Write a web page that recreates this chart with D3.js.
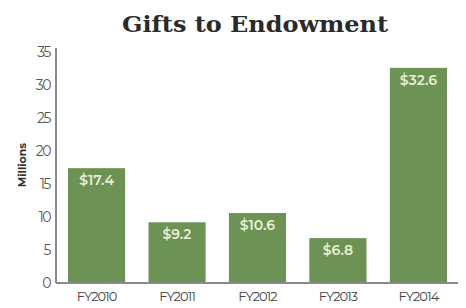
<!DOCTYPE html>
<html>
<head>
<meta charset="utf-8">
<script src="https://cdnjs.cloudflare.com/ajax/libs/d3/7.8.5/d3.min.js"></script>
<style>
  body { margin: 0; background: #fff; }
  text { font-family: "Montserrat", "Noto Sans", "DejaVu Sans", sans-serif; }
</style>
</head>
<body>
<div id="chart"></div>
<script>
// Chart data
var years = ["FY2010", "FY2011", "FY2012", "FY2013", "FY2014"];
var gifts = [17.4, 9.2, 10.6, 6.8, 32.6];
var yTicks = [0, 5, 10, 15, 20, 25, 30, 35];

// SVG size
var svgWdt = 466;
var svgHgt = 308;

var svg = d3.select("#chart").append("svg")
    .attr("width", svgWdt)
    .attr("height", svgHgt);

// Scales
var xScale = d3.scaleBand()
    .domain(years)
    .range([57, 458])
    .paddingInner(0.29)
    .paddingOuter(0.137);

var yScale = d3.scaleLinear()
    .domain([0, 35])
    .range([283, 52]);

var green = "#6c9254";

// Title
svg.append("text")
    .attr("x", 255)
    .attr("y", 32)
    .attr("text-anchor", "middle")
    .attr("textLength", 266)
    .attr("lengthAdjust", "spacingAndGlyphs")
    .style("font-family", "'DejaVu Serif', serif")
    .style("font-weight", "bold")
    .style("font-size", "23px")
    .attr("fill", "#2a2a2a")
    .text("Gifts to Endowment");

// Bars
svg.selectAll(".bar").data(gifts)
    .enter()
    .append("rect")
        .attr("class", "bar")
        .attr("x", (d, i) => xScale(years[i]))
        .attr("y", d => yScale(d))
        .attr("width", xScale.bandwidth())
        .attr("height", d => yScale(0) - yScale(d))
        .attr("fill", green);

// Value labels inside bars
svg.selectAll(".val").data(gifts)
    .enter()
    .append("text")
        .attr("class", "val")
        .attr("x", (d, i) => xScale(years[i]) + xScale.bandwidth() / 2)
        .attr("y", d => yScale(d) + 17)
        .attr("text-anchor", "middle")
        .attr("fill", "#e4eed4")
        .style("font-size", "14px")
        .style("font-weight", "600")
        .text(d => "$" + d.toFixed(1));

// Y axis
var lftRule = d3.axisLeft(yScale)
    .tickValues(yTicks)
    .tickSize(0)
    .tickPadding(6);

var yAxis = svg.append("g")
    .attr("transform", "translate(56, 0)")
    .call(lftRule);

yAxis.select(".domain")
    .attr("d", "M0,48V283")
    .attr("stroke", "#8a8a8a")
    .attr("stroke-width", 2);

yAxis.selectAll("text")
    .attr("fill", "#555")
    .style("font-size", "14px")
    .style("letter-spacing", "-1.5px");

// X axis
var botRule = d3.axisBottom(xScale)
    .tickSize(0)
    .tickPadding(9);

var xAxis = svg.append("g")
    .attr("transform", "translate(0, 283)")
    .call(botRule);

xAxis.select(".domain")
    .attr("d", "M56,0H458")
    .attr("stroke", "#8a8a8a")
    .attr("stroke-width", 2);

xAxis.selectAll("text")
    .attr("fill", "#444")
    .style("font-size", "13px")
    .style("letter-spacing", "-1px");

// Y axis title
svg.append("text")
    .attr("transform", "translate(26, 165) rotate(-90)")
    .attr("text-anchor", "middle")
    .attr("fill", "#333")
    .style("font-size", "11px")
    .style("font-weight", "bold")
    .text("Millions");
</script>
</body>
</html>
